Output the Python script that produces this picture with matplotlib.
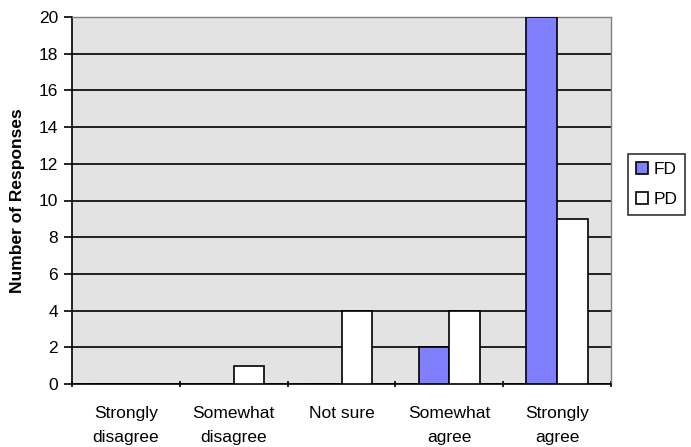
import matplotlib
matplotlib.use("Agg")
import matplotlib.pyplot as plt
import numpy as np

categories = ["Strongly\ndisagree", "Somewhat\ndisagree", "Not sure", "Somewhat\nagree", "Strongly\nagree"]
fd_values = [0, 0, 0, 2, 20]
pd_values = [0, 1, 4, 4, 9]
y_ticks = list(range(0, 21, 2))

plt.rcParams["font.family"] = ["Liberation Sans", "DejaVu Sans"]
FS = 12.5

fig = plt.figure(figsize=(6.91, 4.47), dpi=100)
ax = fig.add_axes([72 / 691, 1 - 384 / 447, (611 - 72) / 691, (384 - 17) / 447])
ax.set_facecolor("#E3E3E3")

x = np.arange(len(categories))
w = 0.285
ax.bar(x - w / 2, fd_values, width=w, color="#8080FF", edgecolor="black", linewidth=1.2, label="FD", zorder=3)
ax.bar(x + w / 2, pd_values, width=w, color="white", edgecolor="black", linewidth=1.2, label="PD", zorder=3)

ax.set_xlim(-0.5, len(categories) - 0.5)
ax.set_ylim(0, 20)
ax.set_yticks(y_ticks)
ax.set_yticklabels([str(v) for v in y_ticks], fontsize=FS)
ax.yaxis.grid(True, color="black", linewidth=1.2, zorder=1)
ax.set_axisbelow(True)

# category labels sit centred between boundary tick marks
ax.set_xticks(np.arange(-0.5, len(categories)), minor=False)
ax.set_xticklabels([])
ax.set_xticks(x, minor=True)
ax.set_xticklabels(categories, minor=True, fontsize=FS, linespacing=1.75)
ax.tick_params(axis="x", which="minor", length=0, pad=16)
ax.tick_params(axis="x", which="major", length=5, width=1.2, direction="inout", color="black")
ax.tick_params(axis="y", length=6, width=1.2, direction="out", pad=4)

for side in ("left", "bottom"):
    ax.spines[side].set_color("black")
    ax.spines[side].set_linewidth(1.2)
for side in ("top", "right"):
    ax.spines[side].set_color("#808080")
    ax.spines[side].set_linewidth(1.0)

ax.set_ylabel("Number of Responses", fontsize=FS, fontweight="bold", labelpad=10)

leg = fig.legend(loc="center left", bbox_to_anchor=(628 / 691, 1 - 184.5 / 447),
                 frameon=True, fancybox=False, edgecolor="black", fontsize=FS,
                 handlelength=0.7, handleheight=0.7, handletextpad=0.3,
                 labelspacing=0.85, borderpad=0.45, borderaxespad=0)
leg.get_frame().set_linewidth(1.2)

fig.savefig("out.png", dpi=100)
